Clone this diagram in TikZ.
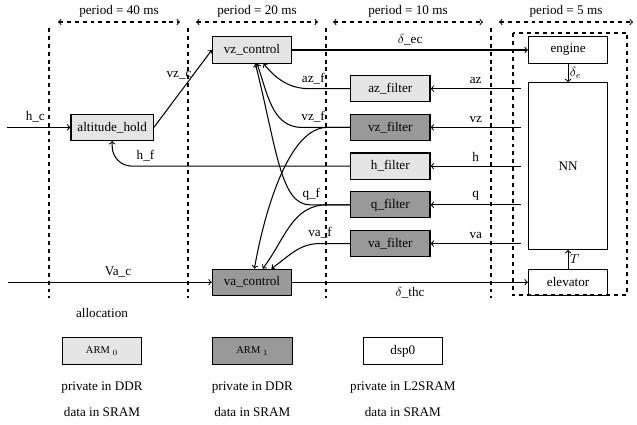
\documentclass[tikz,border=0pt]{standalone}
\usepackage{fontspec}
\setmainfont{Liberation Serif}
\usepackage{tikz}
\usetikzlibrary{positioning}
\usetikzlibrary{calc}

\tikzset{
  blk/.style={draw, rectangle, minimum width=2.12cm, minimum height=0.7cm},
  arm0/.style={blk, fill=gray!20},
  arm1/.style={blk, fill=gray!80},
  span/.style={dashed, <->},
  sep/.style={dashed},
}

\begin{document}
\begin{tikzpicture}[x=0.76pt, y=-0.76pt, thick]
    \useasboundingbox (0,0) rectangle (637,425);
        \matrix[column sep=44pt, row sep=8.7pt, matrix anchor=vzc.center] at (252,50) {
        & \node[arm0] (vzc) {vz\_control}; & &[30pt] \node[blk] (engine) {engine}; \\
        & & \node[arm0] (azf) {az\_filter}; & \\
        \node[arm0, minimum width=2.2cm] (alt) {altitude\_hold}; & & \node[arm1] (vzf) {vz\_filter}; & \\
        & & \node[arm0] (hf) {h\_filter}; & \\
        & & \node[arm1] (qf) {q\_filter}; & \\
        & & \node[arm1] (vaf) {va\_filter}; & \\
        & \node[arm1] (vac) {va\_control}; & & \node[blk] (elevator) {elevator}; \\
    };
    \node[blk, minimum height=4.45cm] (nn) at ($(engine.south)!0.5!(elevator.north)$) {NN};

    % periods
    \draw[span] (58,22) -- node[above] (p40) {period = 40 ms} (180,22);
    \draw[span] (196,22) -- node[above] (p20) {period = 20 ms} (318,22);
    \draw[span] (333,22) -- node[above] (p10) {period = 10 ms} (483,22);
    \draw[span] (499,22) -- node[above] (p5) {period = 5 ms} (633,22);
    \draw[sep] (49,28) -- (49,298);
    \draw[sep] (188,28) -- (188,298);
    \draw[sep] (326,28) -- (326,298);
    \draw[sep] (491,28) -- (491,298);
    \draw[sep] (513,33) rectangle (627,295);

    \coordinate (hcin) at ([xshift=-48.6pt]alt.west);
    \coordinate (vacin) at ([xshift=-155pt]vac.west);
    \coordinate (inx) at ([xshift=-5.3pt]nn.west);

    \draw[->] (hcin) -- node[pos=0.45, above] {h\_c} (alt);
    \draw[->] (vacin) -- node[pos=0.54, above] {Va\_c} (vac);
    \draw[->] (alt.east) -- node[pos=0.68, left, inner sep=1pt] {vz\_c} (vzc.west);
    \draw[->] (vzc) -- node[above] {$\delta$\_ec} (engine);
    \draw[->] (vac) -- node[below] {$\delta$\_thc} (elevator);
    \draw[->] (engine) -- node[right, inner sep=1pt] {$\delta_e$} (nn);
    \draw[->] (elevator) -- node[right, inner sep=1pt] {$T$} (nn);

    \draw[->] (inx |- azf) -- node[above] {az} (azf);
    \draw[->] (inx |- vzf) -- node[above] {vz} (vzf);
    \draw[->] (inx |- hf) -- node[above] {h} (hf);
    \draw[->] (inx |- qf) -- node[above] {q} (qf);
    \draw[->] (inx |- vaf) -- node[above] {va} (vaf);

    % filtered values
    \draw[->, rounded corners=15pt] (hf) -| node[pos=0.43, above] {h\_f} (alt);
    \draw[->] (azf.west) -- node[pos=0.92, above] {az\_f} ++(-40,0) to[out=180, in=-50] (vzc);
    \draw[->] (vzf.west) -- node[pos=0.77, above] {vz\_f} ++(-48,0) to[out=180, in=-70] (vzc);
    \draw[->] (vzf.west) -- ++(-23,0) to[out=180, in=80, out looseness=0.6] (vac);
    \draw[->] (qf.west) -- node[pos=0.97, above] {q\_f} ++(-40,0) to[out=180, in=-76, out looseness=0.5, in looseness=1.5] (vzc);
    \draw[->] (qf.west) -- ++(-23,0) to[out=180, in=52] (vac);
    \draw[->] (vaf.west) -- node[pos=1, above] {va\_f} ++(-30,0) to[out=180, in=35] (vac);

    % allocation
    \node (alloc) at (102,313) {allocation};
    \node[arm0] (a0) at (102,351) {\footnotesize ARM $_0$};
    \node[arm1, right=1.87cm of a0] (a1) {\footnotesize ARM $_1$};
    \node[blk, right=1.87cm of a1] (d0) {dsp0};
    \node (p0) at ([yshift=-28pt]a0.center) {private in DDR};
    \node (p1) at ([yshift=-28pt]a1.center) {private in DDR};
    \node (p2) at ([yshift=-28pt]d0.center) {private in L2SRAM};
    \node (s0) at ([yshift=-18.2pt]p0.center) {data in SRAM};
    \node (s1) at ([yshift=-18.2pt]p1.center) {data in SRAM};
    \node (s2) at ([yshift=-18.2pt]p2.center) {data in SRAM};
\end{tikzpicture}
\end{document}
